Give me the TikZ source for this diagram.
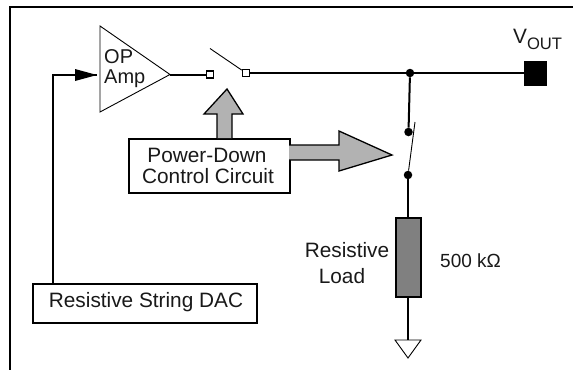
\documentclass[tikz,border=0pt]{standalone}
\usepackage{fontspec}
\setmainfont{Liberation Sans}
\usetikzlibrary{arrows.meta}
\tikzset{
  wire/.style={line width=2pt,draw=black},
  thin wire/.style={line width=0.9pt,draw=black},
  blockbox/.style={draw=black,line width=2pt,fill=white,inner sep=0pt,anchor=north west},
  label text/.style={inner sep=0pt,anchor=base,font=\fontsize{20.8}{24}\selectfont,text=black!90},
  terminal/.style={draw=black,line width=1.6pt,fill=white,minimum size=7pt,inner sep=0pt},
  junction/.style={circle,fill=black,minimum size=8.5pt,inner sep=0pt},
  grayarrow/.style={draw=black,line width=1.3pt,fill=black!30,line join=miter},
}
\begin{document}
\begin{tikzpicture}[x=1pt,y=-1pt]
\useasboundingbox (0,0) rectangle (574,370);
% frame
\draw[line width=2pt] (10,370) -- (10,7) -- (573,7);
% op amp
\draw[thin wire,fill=white] (100,26) -- (100,112) -- (170,74.5) -- cycle;
\coordinate (ampout) at (170,74.5);
\coordinate (ampin) at (97,75);
\node[label text,anchor=base west,font=\fontsize{20}{24}\selectfont] (op) at (104,63) {OP};
\node[label text,anchor=base west,font=\fontsize{20}{24}\selectfont] (amp) at (104,83) {Amp};
% switch 1
\node[terminal] (s1) at (210,74.5) {};
\node[terminal] (s2) at (246,73) {};
\coordinate (arm) at (210,48.5);
\draw[thin wire] (arm) -- (s2);
\draw[wire] (ampout) -- (s1);
% output
\node[junction] (j1) at (410,73) {};
\node[draw=black,fill=black,minimum width=22pt,minimum height=24pt,inner sep=0pt] (vout) at (535,73) {};
\draw[wire] (s2) -- (j1) -- (vout);
\node[label text,anchor=base west] (voutlabel) at (513,43) {V\raisebox{-6pt}{\fontsize{16.6}{20}\selectfont OUT}};
% switch 2
\node[junction] (j2) at (408.5,132) {};
\node[junction] (j3) at (408,175) {};
\draw[wire] (j1) -- (j2);
\coordinate (arm2) at (415,122);
\draw[thin wire] (arm2) -- (j3);
% resistor
\node[draw=black,line width=2pt,fill=black!50,minimum width=25pt,minimum height=79pt,inner sep=0pt] (load) at (408,257) {};
\draw[wire] (j3) -- (load);
\coordinate (gndtop) at (408,340);
\draw[wire] (load) -- (gndtop);
\draw[thin wire,fill=white] (395,340) -- (421,340) -- (408,358) -- cycle;
\node[label text] (rl1) at (347,257) {Resistive};
\node[label text] (rl2) at (342,283) {Load};
\node[label text,anchor=base west,font=\fontsize{19}{22}\selectfont] (val) at (440,267) {500 kΩ};
% control box
\node[blockbox,minimum width=161pt,minimum height=54pt] (ctrl) at (128,138) {};
\node[label text] (pd) at (207,162) {Power-Down};
\node[label text] (cc) at (208,183.5) {Control Circuit};
% gray arrows
\draw[grayarrow] (217,138) -- (217,114) -- (204,114) -- (227,89) -- (243,114) -- (232,114) -- (232,138);
\draw[grayarrow] (289,145) -- (339,145) -- (339,131) -- (392,155) -- (339,171) -- (339,160) -- (289,160);
% DAC
\node[blockbox,minimum width=224pt,minimum height=39pt] (dac) at (32,283) {};
\node[label text] (dactext) at (146,307) {Resistive String DAC};
\coordinate (fb) at (53,283);
\draw[wire] (fb) -- (53,75) -- (ampin);
\fill[black] (ampin) -- (75,69) -- (75,81) -- cycle;
\end{tikzpicture}
\end{document}
